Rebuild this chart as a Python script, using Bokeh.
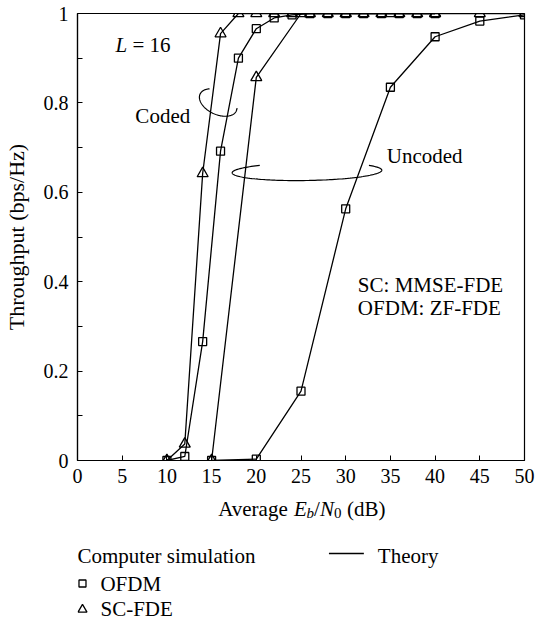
import numpy as np
from bokeh.plotting import figure
from bokeh.layouts import column
from bokeh.models import Range1d, FixedTicker, CustomJSTickFormatter
from bokeh.core.properties import value
from bokeh.embed import file_html
from bokeh.resources import INLINE

# ---------------- data ----------------
snr_coded = [10, 12, 14, 16, 18, 20, 22, 24, 26, 28, 30, 32, 34, 36, 38, 40]
ofdm_coded = [0.0, 0.009, 0.266, 0.692, 0.900, 0.966, 0.990, 0.997, 1.0, 1.0, 1.0, 1.0, 1.0, 1.0, 1.0, 1.0]
scfde_coded = [0.0, 0.037, 0.642, 0.955, 1.0, 1.0, 1.0, 1.0, 1.0, 1.0, 1.0, 1.0, 1.0, 1.0, 1.0, 1.0]

snr_uncoded = [15, 20, 25, 30, 35, 40, 45, 50]
ofdm_uncoded = [0.0, 0.003, 0.155, 0.563, 0.835, 0.948, 0.983, 0.997]
scfde_uncoded = [0.0, 0.857, 1.0, 1.0, 1.0, 1.0, 1.0, 1.0]

x_ticks = [0, 5, 10, 15, 20, 25, 30, 35, 40, 45, 50]
y_ticks = [0, 0.2, 0.4, 0.6, 0.8, 1]
y_minor = [0.1, 0.3, 0.5, 0.7, 0.9]

FONT = "Liberation Serif"
W = 549
H1 = 495
H2 = 622 - H1
LEFT, RIGHT, TOP = 76, 25, 13

# ---------------- main plot ----------------
p = figure(width=W, height=H1, x_range=Range1d(0, 50), y_range=Range1d(0, 1),
           output_backend="svg", toolbar_location=None,
           min_border_left=LEFT, min_border_right=RIGHT, min_border_top=TOP,
           min_border_bottom=H1 - 460)
p.grid.visible = False
p.outline_line_color = "black"
p.outline_line_width = 1.2
p.background_fill_color = "white"
p.border_fill_color = "white"

for ax in (p.xaxis[0], p.yaxis[0]):
    ax.axis_line_color = "black"
    ax.axis_line_width = 1.2
    ax.major_tick_in = 5
    ax.major_tick_out = 0
    ax.minor_tick_in = 5
    ax.minor_tick_out = 0
    ax.major_tick_line_color = "black"
    ax.minor_tick_line_color = "black"
    ax.major_label_text_font = FONT
    ax.major_label_text_font_size = "20px"
    ax.major_label_text_color = "black"

p.xaxis[0].ticker = FixedTicker(ticks=x_ticks)
p.xaxis[0].major_label_standoff = 8
p.yaxis[0].ticker = FixedTicker(ticks=y_ticks, minor_ticks=y_minor)
p.yaxis[0].formatter = CustomJSTickFormatter(code="return String(Math.round(tick*10)/10);")
p.yaxis[0].major_label_standoff = 9
p.yaxis[0].axis_label = "Throughput (bps/Hz)"
p.yaxis[0].axis_label_text_font = FONT
p.yaxis[0].axis_label_text_font_size = "22px"
p.yaxis[0].axis_label_text_font_style = "normal"
p.yaxis[0].axis_label_text_color = "black"
p.yaxis[0].axis_label_standoff = 12

LW = 1.3
for xs, ys in ((snr_coded, ofdm_coded), (snr_coded, scfde_coded),
               (snr_uncoded, ofdm_uncoded), (snr_uncoded, scfde_uncoded)):
    p.line(xs, ys, line_color="black", line_width=LW)

for xs, ys in ((snr_coded, ofdm_coded), (snr_uncoded, ofdm_uncoded)):
    p.scatter(xs, ys, marker="square", size=8, line_color="black", line_width=1.3,
              fill_color=None)
for xs, ys in ((snr_coded, scfde_coded), (snr_uncoded, scfde_uncoded)):
    p.scatter(xs, ys, marker="triangle", size=11, line_color="black", line_width=1.3,
              fill_color=None)

# pixel -> data helpers for annotations (frame: x 76..524, y 13..460)
def px_to_x(px):
    return (np.asarray(px) - 76) / 448 * 50

def py_to_y(py):
    return (460 - np.asarray(py)) / 447

def arc(cx, cy, a, b, phi_deg, t0, t1):
    t = np.radians(np.linspace(t0, t1, 120))
    ph = np.radians(phi_deg)
    ux, uy = np.cos(ph), np.sin(ph)
    vx, vy = -np.sin(ph), np.cos(ph)
    sx = cx + a * np.cos(t) * ux + b * np.sin(t) * vx
    sy_ = cy + a * np.cos(t) * uy + b * np.sin(t) * vy
    return px_to_x(sx), py_to_y(sy_)

cxs, cys = arc(217, 102, 20, 12, 25, -14, 227)
p.line(cxs, cys, line_color="black", line_width=1.2)
uxs, uys = arc(306, 171, 75, 9, -1, -34, 231)
p.line(uxs, uys, line_color="black", line_width=1.2)

def txt(fig, x, y, s, size="20px", style="normal", align="left", baseline="middle"):
    fig.text(x=[x], y=[y], text=[s], text_font=value(FONT), text_font_size=size,
             text_font_style=style, text_align=align, text_baseline=baseline,
             text_color="black")

txt(p, float(px_to_x(114)), float(py_to_y(44)), "L", size="21px", style="italic")
txt(p, float(px_to_x(131)), float(py_to_y(44)), "= 16", size="21px")
txt(p, float(px_to_x(134)), float(py_to_y(115)), "Coded", size="21px")
txt(p, float(px_to_x(386)), float(py_to_y(155)), "Uncoded", size="21px")
txt(p, float(px_to_x(357)), float(py_to_y(284)), "SC: MMSE-FDE", size="21px")
txt(p, float(px_to_x(357)), float(py_to_y(307)), "OFDM: ZF-FDE", size="21px")

# ---------------- x title + legend (data units = screen pixels) ----------------
q = figure(width=W, height=H2, x_range=Range1d(LEFT, W - RIGHT), y_range=Range1d(0, H2),
           output_backend="svg", toolbar_location=None,
           min_border_left=LEFT, min_border_right=RIGHT, min_border_top=0, min_border_bottom=0,
           x_axis_location=None, y_axis_location=None)
q.grid.visible = False
q.outline_line_color = None

def sy(ys):
    return 622 - ys

# x-axis title composed of pieces: Average E_b/N_0 (dB)
ty = sy(508)
sub = sy(512)
txt(q, 217, ty, "Average", size="21px")
txt(q, 293, ty, "E", size="21px", style="italic")
txt(q, 305.5, sub, "b", size="15px", style="italic")
txt(q, 313, ty, "/", size="21px")
txt(q, 319, ty, "N", size="21px", style="italic")
txt(q, 333, sub, "0", size="15px")
txt(q, 346, ty, "(dB)", size="21px")

# legend
txt(q, 76, sy(555), "Computer simulation", size="21px")
q.line([328, 363], [sy(553), sy(553)], line_color="black", line_width=1.3)
txt(q, 377, sy(555), "Theory", size="21px")
q.scatter([81], [sy(583)], marker="square", size=7, line_color="black", line_width=1.3, fill_color=None)
txt(q, 99, sy(583), "OFDM", size="21px")
q.scatter([81], [sy(609)], marker="triangle", size=9, line_color="black", line_width=1.3, fill_color=None)
txt(q, 99, sy(608), "SC-FDE", size="21px")

layout = column(p, q, spacing=0)
open("out.html", "w").write(file_html(layout, INLINE))
